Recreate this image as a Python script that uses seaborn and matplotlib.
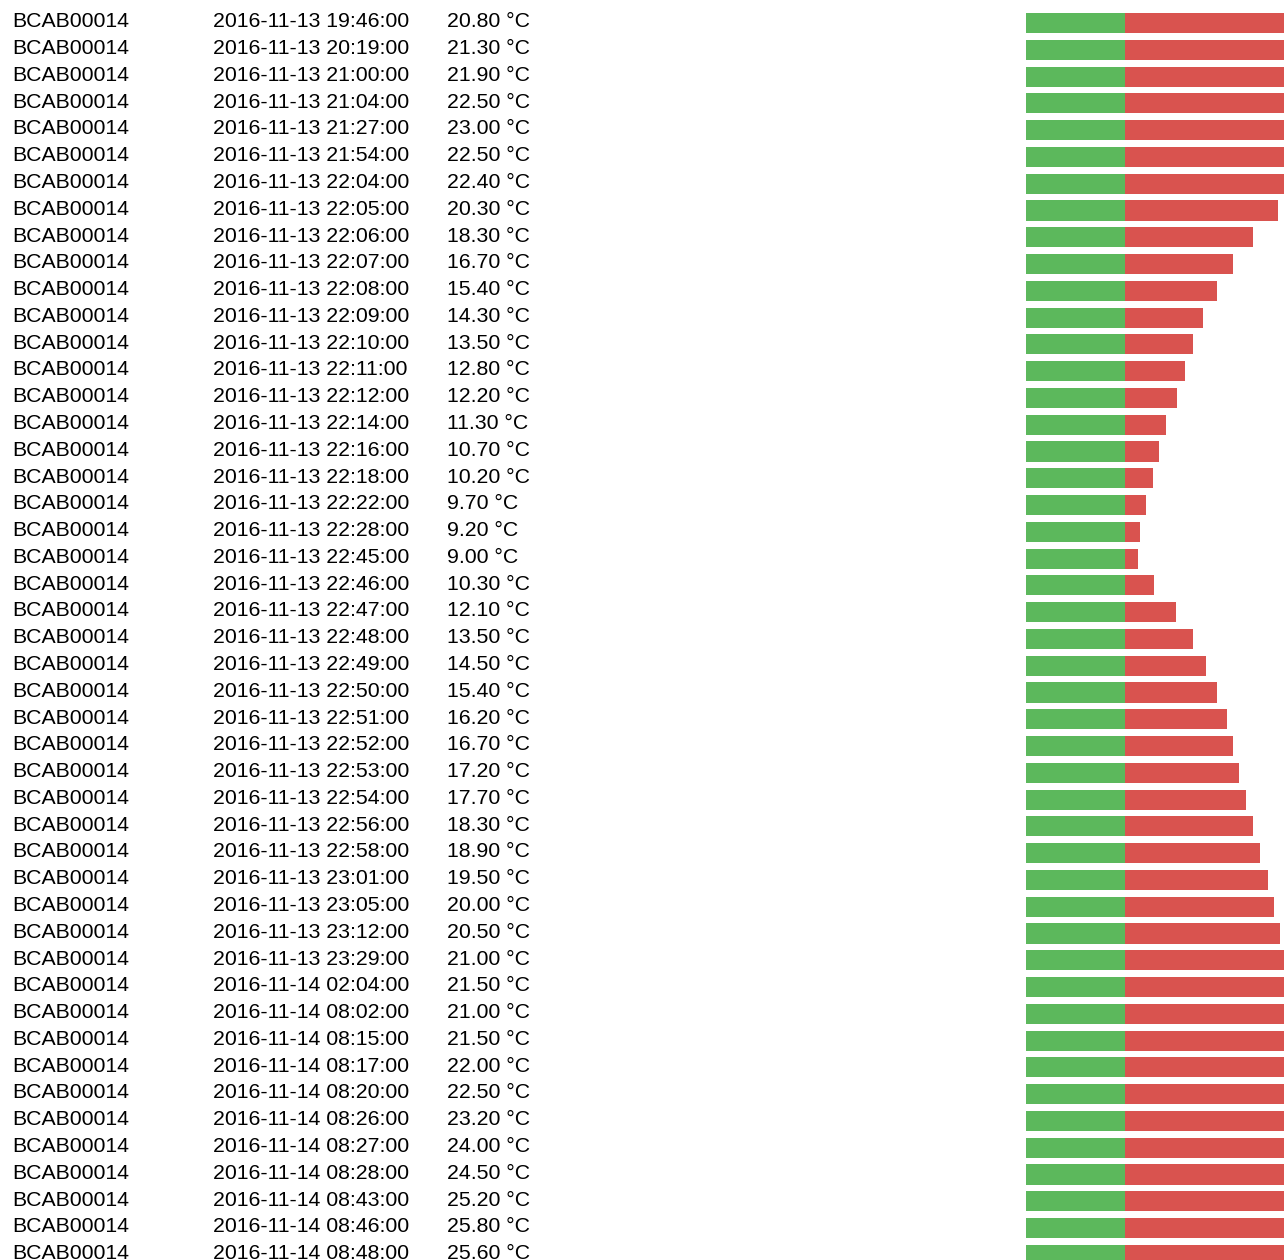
"""Temperature log rendered as a table with threshold bars."""

import matplotlib.pyplot as plt
import matplotlib.transforms as mtransforms
import pandas as pd
import seaborn as sns

sensor_id = "BCAB00014"

timestamps = [
    "2016-11-13 19:46:00", "2016-11-13 20:19:00", "2016-11-13 21:00:00",
    "2016-11-13 21:04:00", "2016-11-13 21:27:00", "2016-11-13 21:54:00",
    "2016-11-13 22:04:00", "2016-11-13 22:05:00", "2016-11-13 22:06:00",
    "2016-11-13 22:07:00", "2016-11-13 22:08:00", "2016-11-13 22:09:00",
    "2016-11-13 22:10:00", "2016-11-13 22:11:00", "2016-11-13 22:12:00",
    "2016-11-13 22:14:00", "2016-11-13 22:16:00", "2016-11-13 22:18:00",
    "2016-11-13 22:22:00", "2016-11-13 22:28:00", "2016-11-13 22:45:00",
    "2016-11-13 22:46:00", "2016-11-13 22:47:00", "2016-11-13 22:48:00",
    "2016-11-13 22:49:00", "2016-11-13 22:50:00", "2016-11-13 22:51:00",
    "2016-11-13 22:52:00", "2016-11-13 22:53:00", "2016-11-13 22:54:00",
    "2016-11-13 22:56:00", "2016-11-13 22:58:00", "2016-11-13 23:01:00",
    "2016-11-13 23:05:00", "2016-11-13 23:12:00", "2016-11-13 23:29:00",
    "2016-11-14 02:04:00", "2016-11-14 08:02:00", "2016-11-14 08:15:00",
    "2016-11-14 08:17:00", "2016-11-14 08:20:00", "2016-11-14 08:26:00",
    "2016-11-14 08:27:00", "2016-11-14 08:28:00", "2016-11-14 08:43:00",
    "2016-11-14 08:46:00", "2016-11-14 08:48:00",
]

temperatures = [
    20.8, 21.3, 21.9, 22.5, 23.0, 22.5, 22.4, 20.3, 18.3, 16.7,
    15.4, 14.3, 13.5, 12.8, 12.2, 11.3, 10.7, 10.2, 9.7, 9.2,
    9.0, 10.3, 12.1, 13.5, 14.5, 15.4, 16.2, 16.7, 17.2, 17.7,
    18.3, 18.9, 19.5, 20.0, 20.5, 21.0, 21.5, 21.0, 21.5, 22.0,
    22.5, 23.2, 24.0, 24.5, 25.2, 25.8, 25.6,
]

threshold = 8.0  # green part of each bar covers 0..threshold

GREEN = "#5cb85c"
RED = "#d9534f"

df = pd.DataFrame({
    "row": range(len(temperatures)),
    "time": timestamps,
    "temp": temperatures,
})
df["low"] = threshold

sns.set_theme(style="white")
plt.rcParams["font.family"] = ["Liberation Sans", "DejaVu Sans"]

W, H = 1284, 1260
fig = plt.figure(figsize=(W / 100, H / 100), dpi=100)
fig.patch.set_facecolor("white")

ax = fig.add_axes([1026 / W, 0, 258 / W, 1])
sns.barplot(data=df, x="temp", y="row", orient="y", color=RED,
            saturation=1, width=0.75, linewidth=0, errorbar=None, ax=ax)
sns.barplot(data=df, x="low", y="row", orient="y", color=GREEN,
            saturation=1, width=0.75, linewidth=0, errorbar=None, ax=ax)

step = 26.78
ax.set_xlim(0, 20.8)
ax.set_ylim((H - 23) / step, -23 / step)
ax.set_axis_off()

# text columns: x in figure pixels, y follows the bar rows
trans = mtransforms.blended_transform_factory(fig.transFigure, ax.transData)
for i, r in df.iterrows():
    y = r["row"] + 0.16
    kw = dict(transform=trans, va="baseline", ha="left", fontsize=15.3,
              color="black")
    ax.text(12 / W, y, sensor_id, **kw)
    ax.text(213 / W, y, r["time"], **kw)
    ax.text(447 / W, y, f"{r['temp']:.2f} °C", **kw)

fig.savefig("out.png", dpi=100)
plt.close(fig)
